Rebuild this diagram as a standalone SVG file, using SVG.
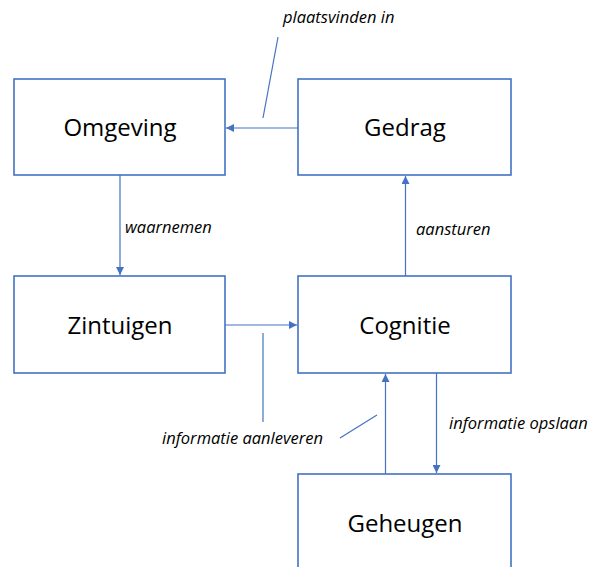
<svg xmlns="http://www.w3.org/2000/svg" width="591" height="567" viewBox="0 0 591 567">
<style>
.box{fill:#fff;stroke:#4472C4;stroke-width:1.6}
.t{font-family:"Open Sans","Liberation Sans",sans-serif;font-size:24px;fill:#000;text-anchor:middle}
.l{font-family:"Open Sans","Liberation Sans",sans-serif;font-size:16.5px;font-style:italic;fill:#000}
.c{stroke:#4472C4;stroke-width:1.2;fill:none}
</style>
<defs>
<marker id="a" viewBox="0 0 10 10" refX="10" refY="5" markerWidth="8" markerHeight="8" markerUnits="userSpaceOnUse" orient="auto">
<path d="M0,0 L10,5 L0,10 z" fill="#4472C4"/>
</marker>
</defs>
<rect width="591" height="567" fill="#fff"/>
<g id="omgeving"><rect class="box" x="14" y="79" width="211" height="96"/><text class="t" x="120" y="136">Omgeving</text></g>
<g id="gedrag"><rect class="box" x="298" y="79" width="213" height="96"/><text class="t" x="405" y="136">Gedrag</text></g>
<g id="zintuigen"><rect class="box" x="14" y="276" width="211" height="97"/><text class="t" x="120" y="334">Zintuigen</text></g>
<g id="cognitie"><rect class="box" x="298" y="276" width="213" height="97"/><text class="t" x="405" y="334">Cognitie</text></g>
<g id="geheugen"><rect class="box" x="298" y="474" width="213" height="100"/><text class="t" x="405" y="532">Geheugen</text></g>
<g id="connectors">
<line class="c" x1="298" y1="128" x2="226" y2="128" marker-end="url(#a)"/>
<line class="c" x1="120" y1="175" x2="120" y2="275" marker-end="url(#a)"/>
<line class="c" x1="225" y1="325" x2="297" y2="325" marker-end="url(#a)"/>
<line class="c" x1="405.5" y1="276" x2="405.5" y2="176" marker-end="url(#a)"/>
<line class="c" x1="385.5" y1="474" x2="385.5" y2="374" marker-end="url(#a)"/>
<line class="c" x1="436.5" y1="373" x2="436.5" y2="473" marker-end="url(#a)"/>
<line class="c" x1="278" y1="37" x2="263" y2="118" stroke-width="0.9"/>
<line class="c" x1="263" y1="333" x2="263" y2="422" stroke-width="0.9"/>
<line class="c" x1="340" y1="438" x2="377" y2="415" stroke-width="0.9"/>
</g>
<g id="labels">
<text class="l" x="283" y="23">plaatsvinden in</text>
<text class="l" x="125" y="233">waarnemen</text>
<text class="l" x="416" y="235">aansturen</text>
<text class="l" x="162" y="444">informatie aanleveren</text>
<text class="l" x="449" y="429">informatie opslaan</text>
</g>
</svg>
